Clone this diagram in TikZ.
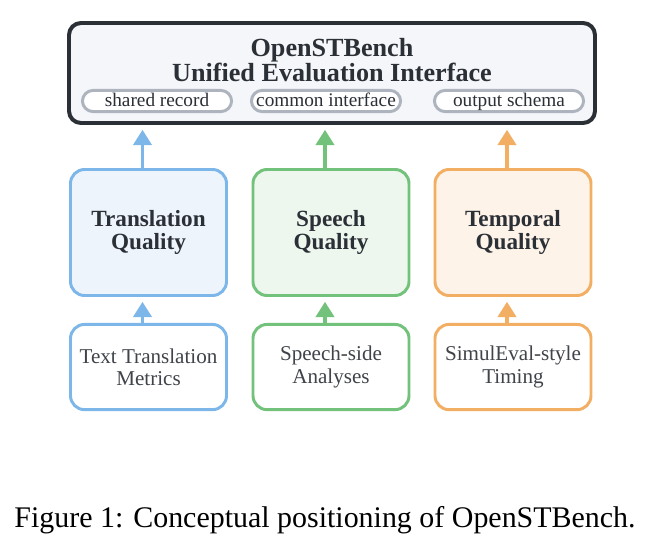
\documentclass[tikz,border=0pt]{standalone}
\usepackage{fontspec}
\setmainfont{Liberation Serif}
\usetikzlibrary{arrows.meta, positioning, calc}

\definecolor{inkdark}{HTML}{2B2F36}
\definecolor{ifacefill}{HTML}{F5F6FA}
\definecolor{pillgray}{HTML}{ADB4BE}
\definecolor{transblue}{HTML}{7DB6E8}
\definecolor{transfill}{HTML}{EEF4FC}
\definecolor{speechgreen}{HTML}{72C27B}
\definecolor{speechfill}{HTML}{EDF7EE}
\definecolor{tempoorange}{HTML}{F2AF63}
\definecolor{tempofill}{HTML}{FDF3E9}

\begin{document}
\begin{tikzpicture}[
        node distance=0.65cm,
        interface/.style={rectangle, draw=inkdark, line width=2.8pt, fill=ifacefill, rounded corners=0.3cm, minimum width=13.15cm, minimum height=2.5cm},
        title_text/.style={align=center, text=inkdark, font=\fontsize{18.6}{17}\selectfont\bfseries},
        pill/.style={rectangle, draw=pillgray, line width=2.1pt, fill=white, rounded corners=0.27cm, minimum width=3.73cm, minimum height=0.53cm, inner sep=0pt, text height=0.84em, text depth=0.12em, text=inkdark, font=\fontsize{13.7}{14}\selectfont},
        quality/.style={rectangle, draw=#1, line width=2.1pt, fill=#1fill, rounded corners=0.35cm, minimum width=3.9cm, minimum height=3.15cm, align=center, text=inkdark, font=\fontsize{16.5}{16.5}\selectfont\bfseries},
        source/.style={rectangle, draw=#1, line width=2.1pt, fill=white, rounded corners=0.35cm, minimum width=3.9cm, minimum height=2.13cm, align=center, text=inkdark!90, font=\fontsize{15}{16}\selectfont},
        feed/.style={-{Triangle[length=11pt, width=13pt]}, line width=2.6pt, draw=#1, shorten >=0.12cm}
    ]
    \useasboundingbox (0,0) rectangle (16.25,13.7);
    \colorlet{transbluefill}{transfill}
    \colorlet{speechgreenfill}{speechfill}
    \colorlet{tempoorangefill}{tempofill}

    % --- Top: unified interface ---
    \node[interface] (iface) at (8.3,11.875) {};
    \node[title_text] (title) at (8.3,12.2) {OpenSTBench\\Unified Evaluation Interface};
    \node[pill] (record) at (3.925,11.175) {shared record};
    \node[pill] (common) at (8.15,11.175) {common interface};
    \node[pill] (schema) at (12.725,11.175) {output schema};

    % --- Middle: quality dimensions ---
    \node[quality=transblue] (tq) at (3.7125,7.8875) {Translation\\Quality};
    \node[quality=speechgreen] (sq) at (8.275,7.8875) {Speech\\Quality};
    \node[quality=tempoorange] (pq) at (12.825,7.8875) {Temporal\\Quality};

    % --- Bottom: evidence sources ---
    \node[source=transblue, below=of tq] (metrics) {Text Translation\\Metrics};
    \node[source=speechgreen, below=of sq] (analyses) {Speech-side\\Analyses};
    \node[source=tempoorange, below=of pq] (timing) {SimulEval-style\\Timing};

    % arrows sit a little left of the box centres
    \draw[feed=transblue] ($(tq.north)+(-0.15,0)$) -- ($(tq.north |- iface.south)+(-0.15,0)$);
    \draw[feed=speechgreen] ($(sq.north)+(-0.15,0)$) -- ($(sq.north |- iface.south)+(-0.15,0)$);
    \draw[feed=tempoorange] ($(pq.north)+(-0.15,0)$) -- ($(pq.north |- iface.south)+(-0.15,0)$);
    \draw[feed=transblue] ($(metrics.north)+(-0.15,0)$) -- ($(tq.south)+(-0.15,0)$);
    \draw[feed=speechgreen] ($(analyses.north)+(-0.15,0)$) -- ($(sq.south)+(-0.15,0)$);
    \draw[feed=tempoorange] ($(timing.north)+(-0.15,0)$) -- ($(pq.south)+(-0.15,0)$);

    \node[anchor=base, font=\fontsize{21.3}{24}\selectfont] (caption) at (8.125,0.525) {Figure 1: Conceptual positioning of OpenSTBench.};
\end{tikzpicture}
\end{document}
